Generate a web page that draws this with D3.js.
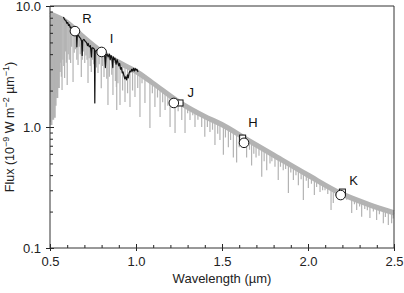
<!DOCTYPE html>
<html>
<head>
<meta charset="utf-8">
<script src="https://cdn.jsdelivr.net/npm/d3@7"></script>
<style>
  body { margin: 0; background: #fff; }
  svg { display: block; font-family: "Liberation Sans", Arial, sans-serif; }
</style>
</head>
<body>
<div id="chart"></div>
<script>
// model continuum (upper envelope of the grey spectrum): [wavelength um, flux]
const continuum = [
  [0.5, 8.8], [0.6, 7.5], [0.7, 5.6], [0.8, 4.3], [0.9, 3.5], [1.0, 2.95],
  [1.1, 2.35], [1.25, 1.65], [1.4, 1.25], [1.5, 1.07], [1.65, 0.8], [1.8, 0.6],
  [2.0, 0.41], [2.2, 0.285], [2.35, 0.235], [2.5, 0.2]
];

// model absorption lines: [wavelength um, flux at line bottom]
const modelLines = [
  [0.503,1.1],[0.508,1.04],[0.513,1.3],[0.518,1.15],[0.522,1.6],[0.527,1.19],[0.532,1.5],[0.537,1.9],
  [0.542,1.74],[0.547,2.4],[0.551,2.1],[0.556,2.85],[0.561,3.4],[0.566,2.6],[0.57,2.02],[0.575,3.6],
  [0.58,3.2],[0.585,2.54],[0.59,4.2],[0.595,3.4],[0.6,2.22],[0.606,4.0],[0.612,3.6],[0.62,3.38],
  [0.626,4.6],[0.634,2.36],[0.641,4.1],[0.648,4.4],[0.656,3.6],[0.663,3.25],[0.67,4.6],[0.676,4.0],
  [0.682,2.59],[0.688,3.6],[0.695,4.2],[0.702,3.38],[0.709,3.9],[0.715,3.6],[0.721,2.31],[0.728,3.7],
  [0.734,3.2],[0.74,2.85],[0.748,3.6],[0.755,3.3],[0.77,3.1],[0.779,2.8],[0.786,3.3],
  [0.798,2.09],[0.805,3.2],[0.814,2.59],[0.83,2.5],[0.837,1.52],[0.845,2.6],
  [0.859,2.7],[0.866,1.84],[0.88,2.4],[0.886,2.14],[0.888,1.38],[0.895,2.3],
  [0.907,1.52],[0.922,2.0],[0.936,1.61],[0.951,1.9],
  [0.965,1.46],[0.98,2.0],[0.994,1.77],[1.01,2.1],
  [1.023,1.21],[1.035,2.3],[1.052,1.58],[1.081,0.98],[1.095,1.9],[1.11,1.46],[1.125,1.75],[1.14,1.21],
  [1.155,1.6],[1.169,1.38],[1.185,1.5],[1.198,1.0],[1.227,0.89],[1.245,1.35],[1.266,1.14],[1.285,0.89],
  [1.30,1.3],[1.314,1.14],[1.33,1.25],[1.343,1.0],[1.36,1.15],[1.382,1.0],[1.4,0.83],[1.415,1.0],
  [1.43,0.91],[1.445,0.95],[1.459,0.71],[1.475,0.88],[1.488,0.78],[1.508,0.59],[1.52,0.82],[1.537,0.68],
  [1.55,0.78],[1.566,0.56],[1.585,0.51],[1.6,0.68],[1.615,0.7],[1.643,0.56],[1.66,0.65],[1.672,0.48],
  [1.685,0.6],[1.698,0.56],[1.715,0.58],[1.731,0.388],[1.745,0.52],[1.76,0.44],[1.779,0.5],[1.79,0.52],
  [1.808,0.47],[1.827,0.365],[1.84,0.47],[1.856,0.44],[1.87,0.45],[1.886,0.285],[1.9,0.42],[1.915,0.365],
  [1.93,0.4],[1.944,0.33],[1.96,0.37],[1.973,0.249],[1.99,0.36],[2.002,0.313],[2.02,0.34],[2.037,0.274],
  [2.05,0.32],[2.07,0.29],[2.085,0.3],[2.099,0.3],[2.115,0.28],[2.134,0.206],[2.147,0.236],[2.16,0.27],
  [2.176,0.249],[2.2,0.26],[2.225,0.25],[2.254,0.195],[2.27,0.23],[2.283,0.206],[2.3,0.22],[2.312,0.181],
  [2.33,0.21],[2.345,0.205],[2.36,0.177],[2.38,0.2],[2.399,0.17],[2.415,0.19],[2.438,0.16],[2.45,0.18],
  [2.467,0.155],[2.486,0.16],[2.495,0.175]
];

// observed optical spectrum (black)
const observed = [
  [0.578,8.1],[0.585,7.7],[0.592,7.6],[0.598,7.2],[0.603,7.3],[0.608,6.9],[0.613,7.0],[0.618,6.6],
  [0.622,6.7],[0.627,6.4],[0.632,6.3],[0.64,6.1],[0.648,6.0],[0.654,5.8],[0.656,4.6],[0.659,5.8],
  [0.665,5.7],[0.672,5.5],[0.678,5.4],[0.684,5.1],[0.687,3.9],[0.69,5.2],[0.697,5.3],[0.705,5.1],
  [0.712,5.0],[0.718,4.7],[0.722,4.9],[0.728,4.6],[0.735,4.7],[0.741,3.8],[0.744,4.5],[0.75,4.5],
  [0.758,4.4],[0.7605,1.58],[0.763,4.2],[0.768,4.3],[0.775,4.3],[0.782,4.1],[0.79,4.2],[0.8,4.0],
  [0.81,4.1],[0.818,3.9],[0.822,3.1],[0.826,3.9],[0.832,4.0],[0.838,3.8],[0.845,4.0],[0.85,3.6],
  [0.855,3.9],[0.86,3.7],[0.865,3.1],[0.868,3.8],[0.873,3.6],[0.878,3.7],[0.884,3.3],[0.89,3.6],
  [0.895,3.4],[0.9,3.2],[0.905,3.35],[0.91,3.0],[0.915,3.1],[0.92,2.8],[0.925,2.85],[0.93,2.65],
  [0.935,2.5],[0.94,2.6],[0.945,2.45],[0.95,2.7],[0.955,2.55],[0.96,2.8],[0.965,2.9],[0.97,2.85],
  [0.975,3.0],[0.98,2.9],[0.985,3.05],[0.99,2.9],[0.995,3.05],[1.0,2.95],[1.005,3.0],[1.012,2.85]
];

// photometry
const bands      = ["R", "I", "J", "H", "K"];
const bandWave   = [0.645, 0.80, 1.22, 1.628, 2.19];
const bandFlux   = [6.2, 4.17, 1.58, 0.74, 0.274];
const modelWave  = [null, null, 1.256, 1.62, 2.20];
const modelFlux  = [null, null, 1.58, 0.81, 0.29];

const xTicks = [0.5, 1.0, 1.5, 2.0, 2.5];
const yTicks = [0.1, 1.0, 10.0];

const W = 404, H = 293;
const margin = { top: 6, right: 10, bottom: 45, left: 50 };
const width = W - margin.left - margin.right,
      height = H - margin.top - margin.bottom;

const svg = d3.select("#chart").append("svg")
  .attr("width", W).attr("height", H)
  .append("g")
  .attr("transform", `translate(${margin.left},${margin.top})`);

const x = d3.scaleLinear().domain([0.5, 2.5]).range([0, width]);
const y = d3.scaleLog().domain([0.1, 10]).range([height, 0]);

const contArea = d3.area()
  .x(d => x(d[0])).y0(height).y1(d => y(d[1]))
  .curve(d3.curveMonotoneX);
const contLine = d3.line()
  .x(d => x(d[0])).y(d => y(d[1]))
  .curve(d3.curveMonotoneX);

svg.append("clipPath").attr("id", "under-cont")
  .append("path").attr("d", contArea(continuum));

const grey = "#b3b3b3";

// absorption lines hang from the continuum
svg.append("g").attr("clip-path", "url(#under-cont)")
  .selectAll("line").data(modelLines).join("line")
  .attr("x1", d => x(d[0])).attr("x2", d => x(d[0]))
  .attr("y1", 0).attr("y2", d => y(d[1]))
  .attr("stroke", grey).attr("stroke-width", d => d[0] < 0.56 ? 2.2 : 1.2);

// dense weak-line forest just under the continuum
svg.append("path")
  .attr("d", contLine(continuum))
  .attr("transform", "translate(0,2.5)")
  .attr("fill", "none").attr("stroke", grey).attr("stroke-width", 3);
svg.append("path")
  .attr("d", contLine(continuum))
  .attr("fill", "none").attr("stroke", grey).attr("stroke-width", 3);

svg.append("path")
  .attr("d", d3.line().x(d => x(d[0])).y(d => y(d[1]))(observed))
  .attr("fill", "none").attr("stroke", "#111").attr("stroke-width", 1.2)
  .attr("stroke-linejoin", "round");

// axes
const fmt = d3.format(".1f");
const xMinor = d3.range(5, 26).map(d => d / 10);
const yMinor = [0.2,0.3,0.4,0.5,0.6,0.7,0.8,0.9,2,3,4,5,6,7,8,9];

const axisStyle = g => {
  g.attr("font-family", null);
  g.selectAll("path.domain").remove();
  g.selectAll("line").attr("stroke", "#222");
  g.selectAll("text").attr("fill", "#222").style("font-size", "13px");
};

svg.append("g").attr("transform", `translate(0,${height})`)
  .call(d3.axisBottom(x).tickValues(xTicks).tickFormat(fmt).tickSize(3).tickPadding(6))
  .call(axisStyle);
svg.append("g").attr("transform", `translate(0,${height})`)
  .call(d3.axisBottom(x).tickValues(xTicks).tickFormat("").tickSize(-4))
  .call(axisStyle);
svg.append("g").attr("transform", `translate(0,${height})`)
  .call(d3.axisBottom(x).tickValues(xMinor).tickFormat("").tickSize(-3))
  .call(axisStyle);

svg.append("g")
  .call(d3.axisLeft(y).tickValues(yTicks).tickFormat(fmt).tickSize(4).tickPadding(5))
  .call(axisStyle);
svg.append("g")
  .call(d3.axisLeft(y).tickValues(yTicks).tickFormat("").tickSize(-4))
  .call(axisStyle);
svg.append("g")
  .call(d3.axisLeft(y).tickValues(yMinor).tickFormat("").tickSize(-3))
  .call(axisStyle);

// frame
svg.append("path")
  .attr("d", `M0,${height}V0H${width}V${height}H0`)
  .attr("fill", "none").attr("stroke", "#333").attr("stroke-width", 1);

// photometric points
const phot = bands.map((b, i) => ({ b, w: bandWave[i], f: bandFlux[i], mw: modelWave[i], mf: modelFlux[i] }));

svg.append("g").selectAll("rect").data(phot.filter(d => d.mw != null)).join("rect")
  .attr("x", d => x(d.mw) - 3).attr("y", d => y(d.mf) - 3)
  .attr("width", 6).attr("height", 6)
  .attr("fill", "#fff").attr("stroke", "#111").attr("stroke-width", 1);

svg.append("g").selectAll("circle").data(phot).join("circle")
  .attr("cx", d => x(d.w)).attr("cy", d => y(d.f)).attr("r", 4.8)
  .attr("fill", "#fff").attr("stroke", "#111").attr("stroke-width", 1);

const labelOffset = { R: [12, -13], I: [10, -14], J: [17, -11], H: [9, -20], K: [13, -15] };
svg.append("g").selectAll("text").data(phot).join("text")
  .attr("x", d => x(d.w) + labelOffset[d.b][0])
  .attr("y", d => y(d.f) + labelOffset[d.b][1])
  .attr("dy", "0.35em").attr("text-anchor", "middle")
  .style("font-size", "13px").attr("fill", "#111")
  .text(d => d.b);

// axis titles
svg.append("text")
  .attr("x", width / 2).attr("y", height + 35)
  .attr("text-anchor", "middle").style("font-size", "13px").attr("fill", "#222")
  .text("Wavelength (\u00b5m)");

const yt = svg.append("text")
  .attr("transform", `translate(${-36},${height / 2}) rotate(-90)`)
  .attr("text-anchor", "middle").style("font-size", "12.5px").attr("fill", "#222");
yt.append("tspan").text("Flux (10");
yt.append("tspan").attr("dy", -5).style("font-size", "9px").text("\u22129");
yt.append("tspan").attr("dy", 5).text(" W m");
yt.append("tspan").attr("dy", -5).style("font-size", "9px").text("\u22122");
yt.append("tspan").attr("dy", 5).text(" \u00b5m");
yt.append("tspan").attr("dy", -5).style("font-size", "9px").text("\u22121");
yt.append("tspan").attr("dy", 5).text(")");
</script>
</body>
</html>
